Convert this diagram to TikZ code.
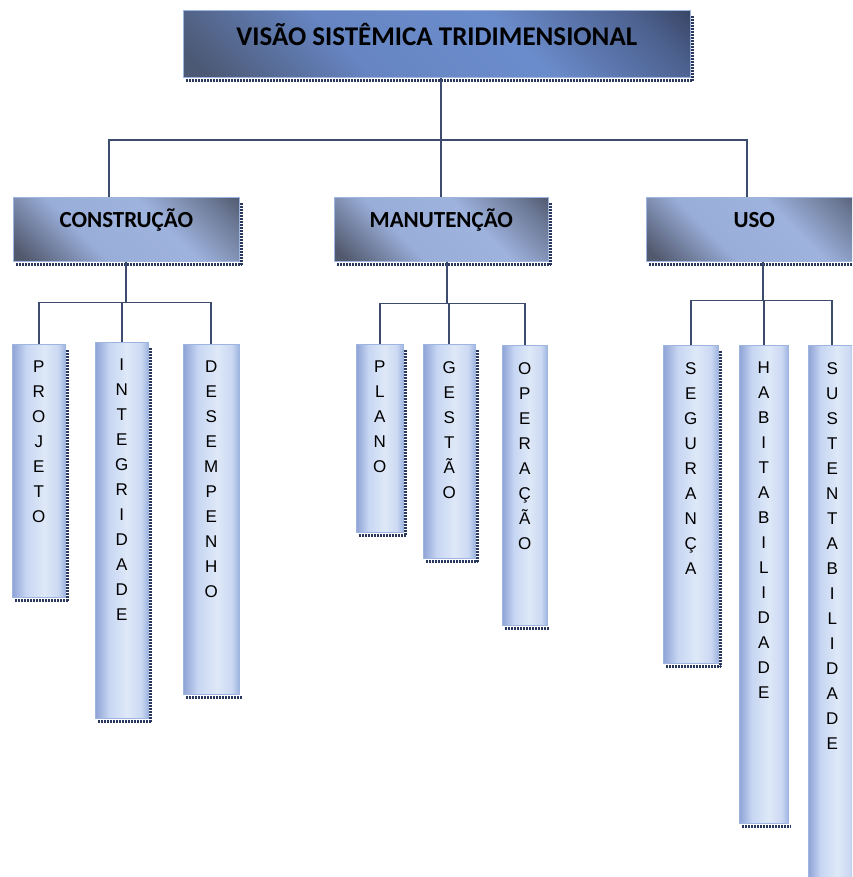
\documentclass[tikz,border=0pt]{standalone}
\usepackage{fontspec}
\setmainfont{Carlito}
\newfontfamily\leaffont{Liberation Sans}

\definecolor{boxedge}{rgb}{0.62,0.71,0.88}
\definecolor{linkblue}{rgb}{0.24,0.30,0.43}
\definecolor{shadowblue}{rgb}{0.16,0.22,0.36}

% Shadings for the three kinds of boxes
\pgfdeclarehorizontalshading{titleshade}{100bp}{rgb(0bp)=(0.28,0.32,0.42); rgb(18bp)=(0.30,0.35,0.46); rgb(38bp)=(0.40,0.52,0.76); rgb(60bp)=(0.42,0.55,0.80); rgb(78bp)=(0.30,0.38,0.56); rgb(88bp)=(0.20,0.24,0.34); rgb(100bp)=(0.20,0.24,0.34)}
\pgfdeclarehorizontalshading{headshade}{100bp}{rgb(0bp)=(0.30,0.33,0.40); rgb(18bp)=(0.32,0.35,0.43); rgb(38bp)=(0.60,0.68,0.85); rgb(60bp)=(0.62,0.70,0.87); rgb(78bp)=(0.42,0.47,0.58); rgb(88bp)=(0.28,0.31,0.38); rgb(100bp)=(0.28,0.31,0.38)}
\pgfdeclarehorizontalshading{leafshade}{100bp}{rgb(0bp)=(0.56,0.64,0.84); rgb(25bp)=(0.56,0.64,0.84); rgb(38bp)=(0.78,0.84,0.95); rgb(55bp)=(0.87,0.91,0.97); rgb(68bp)=(0.80,0.85,0.95); rgb(75bp)=(0.62,0.71,0.88); rgb(100bp)=(0.62,0.71,0.88)}

\begin{document}
\begin{tikzpicture}[x=1pt, y=-1pt,
    % Define the style for each kind of box
    box/.style={rectangle, anchor=north west, inner sep=0pt, draw=boxedge, line width=0.6pt},
    title box/.style={box, shading=titleshade, shading angle=45},
    head box/.style={box, shading=headshade, shading angle=45},
    leaf box/.style={box, shading=leafshade},
    % Define the style for the texts
    head text/.style={anchor=base, inner sep=0pt, font=\bfseries\fontsize{23}{27}\selectfont},
    title text/.style={head text, font=\bfseries\fontsize{27}{32}\selectfont},
    leaf text/.style={anchor=north, inner sep=0pt, align=center, font=\leaffont\fontsize{17}{25}\selectfont},
    % Define the style for the connecting lines and the dotted shadows
    connector/.style={draw=linkblue, line width=1.7pt},
    dotshadow/.style={draw=shadowblue, line width=2.6pt, dash pattern=on 1.7pt off 1.3pt}
]
\useasboundingbox (0,0) rectangle (852,877);
\clip (0,0) rectangle (852,877);

% Top box
\node[title box, minimum width=507pt, minimum height=67pt] (title) at (183,10) {};
\node[title text] (title-t) at ([yshift=-36pt]title.north) {VISÃO SISTÊMICA TRIDIMENSIONAL};

% Second level: the three dimensions
\foreach \name/\x/\w/\word in {constr/13/226/CONSTRUÇÃO, manut/334/214/MANUTENÇÃO, uso/646/216/USO} {
    \node[head box, minimum width=\w pt, minimum height=64pt] (\name) at (\x,197) {};
    \node[head text] (\name-t) at ([yshift=-31pt]\name.north) {\word};
}

% Third level: the vertical boxes, one letter per line
\foreach \name/\x/\y/\w/\h/\word in {
    projeto/12/344/53/253/{P\\R\\O\\J\\E\\T\\O},
    integridade/95/342/53/376/{I\\N\\T\\E\\G\\R\\I\\D\\A\\D\\E},
    desempenho/183/344/56/350/{D\\E\\S\\E\\M\\P\\E\\N\\H\\O},
    plano/356/344/47/188/{P\\L\\A\\N\\O},
    gestao/423/344/52/214/{G\\E\\S\\T\\Ã\\O},
    operacao/502/345/45/280/{O\\P\\E\\R\\A\\Ç\\Ã\\O},
    seguranca/663/345/55/318/{S\\E\\G\\U\\R\\A\\N\\Ç\\A},
    habitabilidade/739/345/49/478/{H\\A\\B\\I\\T\\A\\B\\I\\L\\I\\D\\A\\D\\E},
    sustentabilidade/808/345/48/560/{S\\U\\S\\T\\E\\N\\T\\A\\B\\I\\L\\I\\D\\A\\D\\E}} {
    \node[leaf box, minimum width=\w pt, minimum height=\h pt] (\name) at (\x,\y) {};
    \node[leaf text] (\name-t) at ([yshift=-17pt]\name.north) {\word};
}

% Dotted shadows along the right and bottom edges
\foreach \b in {title,constr,manut,projeto,integridade,plano,gestao,seguranca}
    \draw[dotshadow] ([xshift=2pt,yshift=-6pt]\b.north east) -- ([xshift=2pt,yshift=-3pt]\b.south east);
\foreach \b in {title,constr,manut,uso,projeto,integridade,desempenho,plano,gestao,operacao,seguranca,habitabilidade}
    \draw[dotshadow] ([xshift=3pt,yshift=-3pt]\b.south west) -- ([xshift=2pt,yshift=-3pt]\b.south east);

% Connect the top box to the second level
\coordinate (bus) at (0,140);
\draw[connector] (title.south -| manut.north) -- (manut.north);
\draw[connector] ([xshift=-17pt]constr.north) -- ([xshift=-17pt]constr.north |- bus)
    -- ([xshift=-7pt]uso.north |- bus) -- ([xshift=-7pt]uso.north);

% Connect each dimension to its boxes
\foreach \child in {projeto,integridade,desempenho}
    \draw[connector] (constr.south) -- ++(0,41) -| (\child.north);
\foreach \child in {plano,gestao,operacao}
    \draw[connector] ([xshift=6pt]manut.south) -- ++(0,42) -| (\child.north);
\foreach \child in {seguranca,habitabilidade,sustentabilidade}
    \draw[connector] ([xshift=9pt]uso.south) -- ++(0,39) -| (\child.north);

\end{tikzpicture}
\end{document}
